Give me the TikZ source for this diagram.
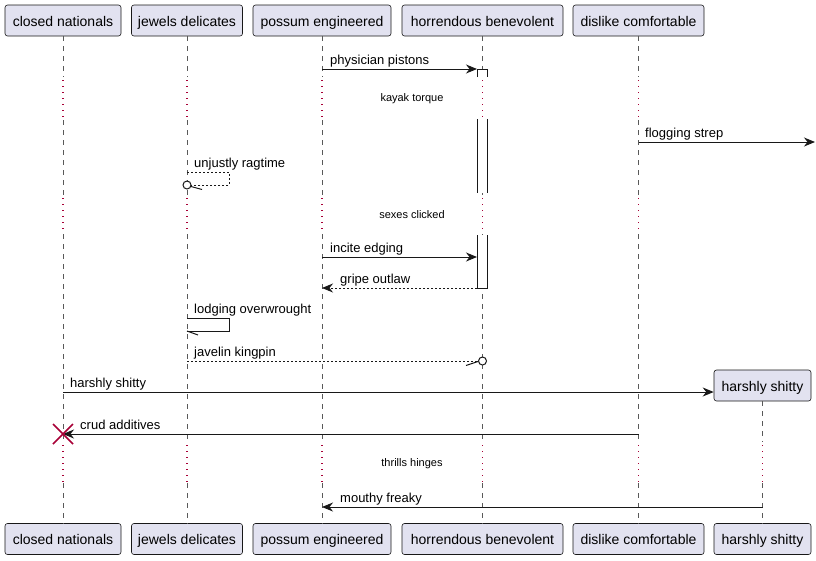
\documentclass[tikz,border=0pt]{standalone}
\usepackage{fontspec}
\setmainfont{Liberation Sans}
\usetikzlibrary{arrows.meta}
\definecolor{pumlred}{HTML}{A80036}
\definecolor{pumlfill}{HTML}{E2E2F0}
\definecolor{pumlline}{HTML}{181818}
\tikzset{
  part/.style={draw=pumlline, line width=0.6pt, fill=pumlfill, rounded corners=2.5pt, inner sep=0pt,
    minimum height=31pt, text height=11pt, text depth=0pt, font=\fontsize{14}{16}\selectfont},
  life/.style={draw=black!65, line width=0.7pt, dash pattern=on 5pt off 5pt},
  delayline/.style={draw=pumlred, line width=1.2pt, dash pattern=on 1pt off 5pt},
  msg/.style={draw=pumlline, line width=1pt, -{Stealth[length=11pt,width=9pt,inset=3.5pt]}},
  dmsg/.style={msg, dash pattern=on 2pt off 2pt},
  plain/.style={draw=pumlline, line width=1pt},
  dplain/.style={plain, dash pattern=on 2pt off 2pt},
  lbl/.style={anchor=base west, inner sep=0pt, font=\fontsize{13}{15}\selectfont},
  delaytxt/.style={inner sep=0pt, font=\fontsize{11}{13}\selectfont},
  actbox/.style={draw=pumlline, line width=1pt},
}
\begin{document}
\begin{tikzpicture}[x=1pt,y=-1pt]
\useasboundingbox (0,0) rectangle (816,560);
% participants (top)
\node[part, minimum width=116pt] (cn) at (63,20.5) {closed nationals};
\node[part, minimum width=111pt] (jd) at (187,20.5) {jewels delicates};
\node[part, minimum width=138pt] (pe) at (322,20.5) {possum engineered};
\node[part, minimum width=161pt] (hb) at (482.5,20.5) {horrendous benevolent};
\node[part, minimum width=131pt] (dc) at (638.5,20.5) {dislike comfortable};
% participants (bottom)
\node[part, minimum width=116pt] (cnb) at (63,539) {closed nationals};
\node[part, minimum width=111pt] (jdb) at (187,539) {jewels delicates};
\node[part, minimum width=138pt] (peb) at (322,539) {possum engineered};
\node[part, minimum width=161pt] (hbb) at (482.5,539) {horrendous benevolent};
\node[part, minimum width=131pt] (dcb) at (638.5,539) {dislike comfortable};
\node[part, minimum width=97pt] (hs) at (762.5,385.5) {harshly shitty};
\node[part, minimum width=97pt] (hsb) at (762.5,539) {harshly shitty};
% lifelines
\foreach \p in {cn,jd,pe,hb,dc}{
  \draw[life] (\p.south) -- (\p |- 0,77);
  \draw[delayline] (\p |- 0,80) -- (\p |- 0,120);
  \draw[life] (\p |- 0,120) -- (\p |- 0,195);
  \draw[delayline] (\p |- 0,198) -- (\p |- 0,234);
  \draw[life] (\p |- 0,234) -- (\p |- 0,442);
  \draw[delayline] (\p |- 0,445) -- (\p |- 0,483);
  \draw[life] (\p |- 0,483) -- (\p b.north);
}
\draw[life] (hs.south) -- (hs |- 0,442);
\draw[delayline] (hs |- 0,445) -- (hs |- 0,483);
\draw[life] (hs |- 0,483) -- (hsb.north);
% activation on horrendous benevolent
\fill[white] (477,69) rectangle (487,77);
\draw[actbox] (477,77) -- (477,69) -- (487,69) -- (487,77);
\fill[white] (477,119) rectangle (487,193);
\draw[actbox] (477,119) -- (477,193) (487,119) -- (487,193);
\fill[white] (477,235) rectangle (487,288);
\draw[actbox] (477,235) -- (477,288) -- (487,288) -- (487,235);
\coordinate (a1) at (477,69);
\coordinate (a2) at (477,257);
\coordinate (a3) at (477,288);
\coordinate (rightend) at (815,142);
% delay texts
\node[delaytxt] (d1) at (412,99) {kayak torque};
\node[delaytxt] (d2) at (412,215) {sexes clicked};
\node[delaytxt] (d3) at (412,464) {thrills hinges};
% messages
\draw[msg] (pe |- 0,69) -- (a1);
\node[lbl] (l1) at (330,64) {physician pistons};
\draw[msg] (dc |- 0,142) -- (rightend);
\node[lbl] (l2) at (645,137) {flogging strep};
% unjustly ragtime (self, dashed, circle end)
\draw[dplain] (jd |- 0,172) -- (229,172) -- (229,185) -- (191,185);
\draw[plain, fill=white] (jd |- 0,185) circle (4);
\draw[plain] (191,186.5) -- (202,189.5);
\node[lbl] (l3) at (194,167) {unjustly ragtime};
\draw[msg] (pe |- 0,257) -- (a2);
\node[lbl] (l4) at (330,252) {incite edging};
\draw[dmsg] (a3) -- (pe |- 0,288);
\node[lbl] (l5) at (340,283) {gripe outlaw};
% lodging overwrought (self)
\draw[plain] (jd |- 0,318) -- (229,318) -- (229,331) -- (jd |- 0,331);
\draw[plain] (jd |- 0,331) -- (198,335);
\node[lbl] (l6) at (194,313) {lodging overwrought};
% javelin kingpin
\draw[dplain] (jd |- 0,361) -- (478,361);
\draw[plain] (466,365.5) -- (478,361.5);
\draw[plain, fill=white] (hb |- 0,361) circle (4);
\node[lbl] (l7) at (194,356) {javelin kingpin};
% harshly shitty (create)
\draw[msg] (cn |- 0,392) -- (hs.west |- 0,392);
\node[lbl] (l8) at (70,387) {harshly shitty};
% crud additives (destroy)
\draw[msg] (dc |- 0,434) -- (cn |- 0,434);
\draw[pumlred, line width=1.6pt] (53,424) -- (73,444) (53,444) -- (73,424);
\node[lbl] (l9) at (80,429) {crud additives};
% mouthy freaky
\draw[msg] (hs |- 0,507) -- (pe |- 0,507);
\node[lbl] (l10) at (340,502) {mouthy freaky};
\end{tikzpicture}
\end{document}
